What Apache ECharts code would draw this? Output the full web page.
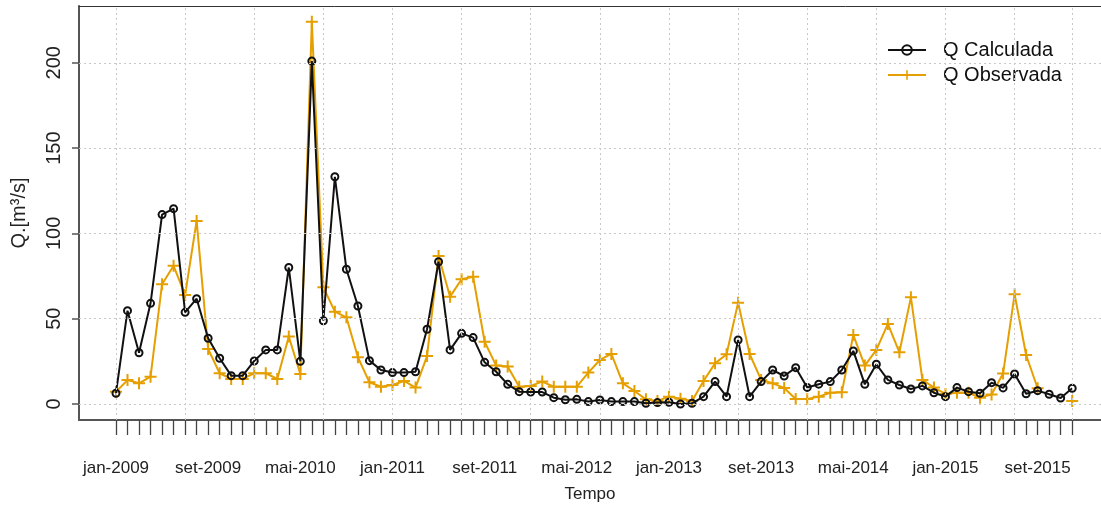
<!DOCTYPE html>
<html>
<head>
<meta charset="utf-8">
<script src="https://cdn.jsdelivr.net/npm/echarts@6/dist/echarts.min.js"></script>
<style>
  html, body { margin: 0; padding: 0; background: #fff; }
  #chart { width: 1101px; height: 506px; }
</style>
</head>
<body>
<div id="chart"></div>
<script>
// Monthly discharge, jan-2009 .. dez-2015 (84 months, index 0..83)
const monthIndex = Array.from({ length: 84 }, (_, i) => i);

const tickLabels = ['jan-2009', 'set-2009', 'mai-2010', 'jan-2011', 'set-2011', 'mai-2012',
  'jan-2013', 'set-2013', 'mai-2014', 'jan-2015', 'set-2015'];
const tickLabelMonths = [0, 8, 16, 24, 32, 40, 48, 56, 64, 72, 80];

const qCalculada = [
  6.3, 54.7, 30, 59, 111, 114.5, 53.7, 61.7, 38.5, 26.8, 16.6, 16.6,
  25.2, 31.7, 31.7, 80, 25, 201, 48.8, 133.2, 79, 57.4, 25.4, 19.9,
  18.4, 18.4, 18.9, 43.8, 83.4, 31.7, 41.4, 38.9, 24.4, 18.9, 11.5, 7.2,
  7, 7, 3.7, 2.5, 2.7, 1.4, 2.3, 1.4, 1.4, 1.4, 0.4, 0.8,
  1, 0, 0.4, 4.3, 13.1, 4.3, 37.5, 4.3, 13.1, 19.9, 16.4, 21.3,
  9.7, 11.6, 13.1, 19.9, 31.1, 11.5, 23.3, 14.1, 11.1, 8.8, 10.6, 6.6,
  4.3, 9.6, 7.2, 6.3, 12.5, 9.4, 17.6, 6, 7.8, 5.7, 3.5, 9.2
];

const qObservada = [
  7.2, 14, 12.1, 16, 70.2, 81, 63.9, 107.3, 32.2, 18, 14.7, 14.7,
  18, 18, 14.7, 39.5, 17.6, 224, 68.4, 54.1, 50.8, 27.4, 12.7, 10.1,
  11.1, 13.5, 9.6, 28.1, 86.8, 62.9, 73.1, 74.6, 36.5, 22.5, 22, 10.1,
  10.6, 13.1, 10.1, 10.1, 10.1, 18.4, 25.8, 29.3, 12.1, 7.6, 2.7, 1.8,
  4.3, 3.1, 1.8, 13.5, 23.8, 29.1, 59.4, 29.3, 14.1, 12.1, 9.4, 2.9,
  2.9, 4.3, 6.6, 6.8, 40.4, 22.5, 31.7, 46.9, 30.3, 62.5, 14.1, 9.6,
  5.9, 6.6, 6.6, 3.7, 5.5, 17.8, 64.3, 28.7, 9.2, null, null, 1.8
];

const yTicks = [0, 50, 100, 150, 200];
const gridMonths = [0, 6, 12, 18, 24, 30, 36, 42, 48, 54, 60, 66, 72, 78, 83];

const ORANGE = '#E69F00';
const FONT = '"Liberation Sans", Arial, sans-serif';
const PLUS = 'path://M0,5 L12,5 L12,7 L0,7 Z M5,0 L7,0 L7,12 L5,12 Z';

const pairs = arr => monthIndex.map(i => [i, arr[i]]);
const labelFor = v => {
  const k = tickLabelMonths.indexOf(Math.round(v));
  return k >= 0 ? tickLabels[k] : '';
};

const gridStyle = { color: '#c8c8c8', type: [2, 3], width: 1 };
const X_MIN = -3.21, X_MAX = 85.5;

const chart = echarts.init(document.getElementById('chart'), null, { renderer: 'canvas' });
chart.setOption({
  animation: false,
  backgroundColor: '#fff',
  textStyle: { fontFamily: FONT },
  grid: { left: 79, top: 6, right: 0, bottom: 86, show: false, outerBoundsMode: 'none', containLabel: false },
  legend: {
    data: ['Q Calculada', 'Q Observada'],
    orient: 'vertical',
    left: 882, top: 35,
    itemWidth: 38, itemHeight: 12, itemGap: 5,
    textStyle: { fontSize: 20, color: '#111', fontFamily: FONT, lineHeight: 20, padding: [0, 0, 0, 12] }
  },
  xAxis: [
    {
      type: 'value',
      min: X_MIN, max: X_MAX,
      name: 'Tempo',
      nameLocation: 'middle',
      nameGap: 66,
      nameTextStyle: { fontSize: 17, color: '#222', fontFamily: FONT },
      axisLine: { show: true, onZero: false, lineStyle: { color: '#555', width: 2 } },
      axisTick: { show: true, length: 15, customValues: monthIndex, lineStyle: { color: '#444', width: 1.3 } },
      axisLabel: {
        customValues: tickLabelMonths, margin: 40, fontSize: 17, color: '#222', fontFamily: FONT,
        formatter: labelFor
      },
      splitLine: { show: false }
    },
    {
      // top edge of the plot frame
      type: 'value',
      position: 'top',
      min: X_MIN, max: X_MAX,
      axisLine: { show: true, onZero: false, lineStyle: { color: '#333', width: 1 } },
      axisTick: { show: false },
      axisLabel: { show: false },
      splitLine: { show: false }
    }
  ],
  yAxis: {
    type: 'value',
    min: -9.4, max: 233.3,
    name: 'Q.[m³/s]',
    nameLocation: 'middle',
    nameRotate: 90,
    nameGap: 50,
    nameTextStyle: { fontSize: 20, color: '#222', fontFamily: FONT },
    axisLine: { show: true, onZero: false, lineStyle: { color: '#555', width: 2 } },
    axisTick: { show: true, length: 7, customValues: yTicks, lineStyle: { color: '#555', width: 1.5 } },
    axisLabel: {
      customValues: yTicks, rotate: 90, margin: 15, fontSize: 20, color: '#222', fontFamily: FONT
    },
    splitLine: { show: false }
  },
  series: [
    {
      // dotted reference grid
      name: 'grade',
      type: 'line',
      data: [],
      z: 1,
      silent: true,
      markLine: {
        silent: true,
        symbol: ['none', 'none'],
        label: { show: false },
        lineStyle: gridStyle,
        emphasis: { disabled: true },
        data: yTicks.map(v => ({ yAxis: v })).concat(gridMonths.map(m => ({ xAxis: m })))
      }
    },
    {
      name: 'Q Observada',
      type: 'line',
      data: pairs(qObservada),
      z: 3,
      connectNulls: false,
      showSymbol: true,
      showAllSymbol: true,
      symbol: PLUS,
      symbolSize: 12,
      lineStyle: { color: ORANGE, width: 2 },
      itemStyle: { color: ORANGE, borderWidth: 0 }
    },
    {
      name: 'Q Calculada',
      type: 'line',
      data: pairs(qCalculada),
      z: 4,
      showSymbol: true,
      showAllSymbol: true,
      symbol: 'circle',
      symbolSize: 7,
      lineStyle: { color: '#111', width: 2 },
      itemStyle: { color: 'rgba(255,255,255,0)', borderColor: '#111', borderWidth: 2 }
    }
  ]
});
</script>
</body>
</html>
